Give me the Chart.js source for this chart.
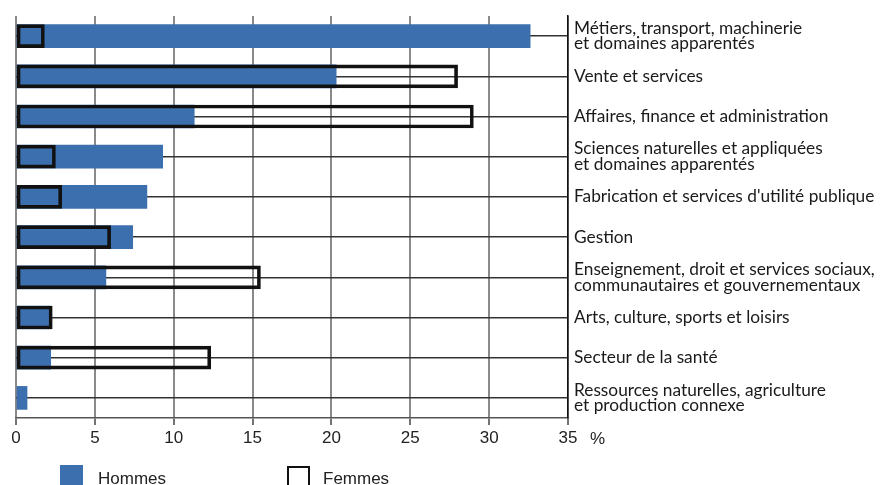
<!DOCTYPE html>
<html><head><meta charset="utf-8">
<script src="https://cdn.jsdelivr.net/npm/chart.js@4/dist/chart.umd.min.js"></script>
<style>html,body{margin:0;padding:0;background:#fff}#wrap{width:885px;height:485px;position:relative}</style>
</head><body><div id="wrap"><canvas id="c" width="885" height="485"></canvas></div>
<script>
const categories = [
  ['Métiers, transport, machinerie', 'et domaines apparentés'],
  ['Vente et services'],
  ['Affaires, finance et administration'],
  ['Sciences naturelles et appliquées', 'et domaines apparentés'],
  ['Fabrication et services d\'utilité publique'],
  ['Gestion'],
  ['Enseignement, droit et services sociaux,', 'communautaires et gouvernementaux'],
  ['Arts, culture, sports et loisirs'],
  ['Secteur de la santé'],
  ['Ressources naturelles, agriculture', 'et production connexe']
];
const hommes = [32.6, 20.3, 11.3, 9.3, 8.3, 7.4, 5.7, 2.2, 2.2, 0.7];
const femmes = [1.8, 28.0, 29.0, 2.5, 2.9, 6.0, 15.5, 2.3, 12.35, null];
const xTicks = [0, 5, 10, 15, 20, 25, 30, 35];
const unitLabel = '%';
const legendLabels = ['Hommes', 'Femmes'];

const BLUE = '#3b6fae';
const extras = {
  id: 'extras',
  afterDraw(chart) {
    const ctx = chart.ctx;
    const xs = chart.scales.x;
    ctx.save();
    ctx.font = '17px "Liberation Sans", Arial, sans-serif';
    ctx.fillStyle = '#222';
    ctx.textBaseline = 'alphabetic';
    ctx.textAlign = 'left';
    ctx.fillText(unitLabel, xs.right + 22, 444);
    // legend
    ctx.fillStyle = BLUE;
    ctx.fillRect(60, 465, 23, 25);
    ctx.strokeStyle = '#111';
    ctx.lineWidth = 2;
    ctx.strokeRect(288, 467, 21, 25);
    ctx.fillStyle = '#222';
    ctx.fillText(legendLabels[0], 98, 484);
    ctx.fillText(legendLabels[1], 323, 484);
    ctx.restore();
  }
};

new Chart(document.getElementById('c'), {
  type: 'bar',
  data: {
    labels: categories,
    datasets: [
      { label: legendLabels[1], data: femmes, backgroundColor: 'rgba(0,0,0,0)', borderColor: '#111', borderWidth: 3, borderSkipped: false, barThickness: 23, grouped: false, order: 0 },
      { label: legendLabels[0], data: hommes, backgroundColor: BLUE, borderWidth: 0, barThickness: 23, grouped: false, order: 1 }
    ]
  },
  options: {
    indexAxis: 'y',
    responsive: false,
    animation: false,
    layout: { padding: { left: 16, top: 16, right: 0, bottom: 0 } },
    plugins: { legend: { display: false }, tooltip: { enabled: false } },
    scales: {
      x: {
        type: 'linear', min: 0, max: 35,
        afterBuildTicks(s) { s.ticks = xTicks.map(v => ({ value: v })); },
        afterFit(s) { s.height = 67; },
        grid: { color: '#8a8a8a', lineWidth: 2, drawTicks: true, tickLength: 7, tickColor: '#444', tickWidth: 1.5 },
        border: { display: true, color: '#555', width: 1.5 },
        ticks: { padding: 3, color: '#222', font: { family: '"Liberation Sans", Arial, sans-serif', size: 17 }, maxRotation: 0, autoSkip: false }
      },
      y: {
        position: 'right',
        offset: true,
        afterFit(s) { s.width = 317; s.paddingTop = 0; s.paddingBottom = 0; },
        grid: { offset: false, color: '#333', lineWidth: 1.5, drawTicks: false },
        border: { display: true, color: '#111', width: 1.5 },
        ticks: { padding: 6, color: '#1a1a1a', crossAlign: 'near', autoSkip: false, font: { family: 'Lato, sans-serif', size: 17.3, lineHeight: 0.9 } }
      }
    }
  },
  plugins: [extras]
});
</script></body></html>
